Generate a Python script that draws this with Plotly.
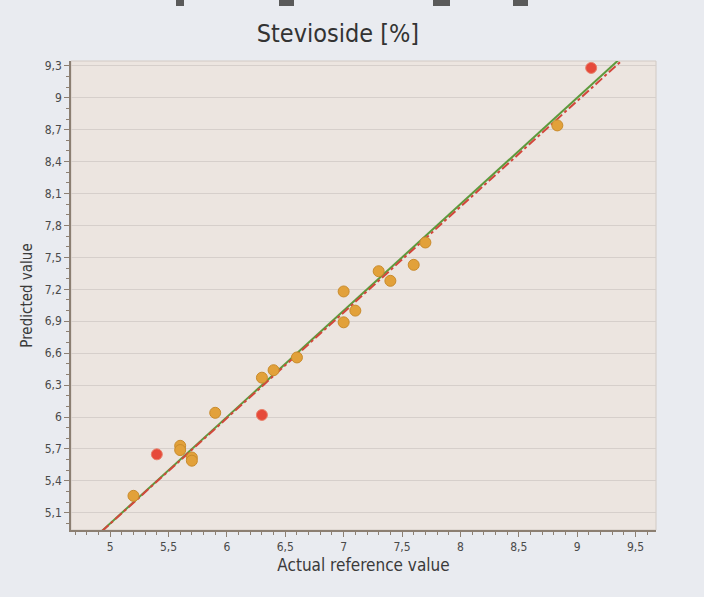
import numpy as np
import plotly.graph_objects as go

# Calibration samples: actual reference value vs. predicted value
actual_ok = [5.2, 5.6, 5.6, 5.7, 5.7, 5.9, 6.3, 6.4, 6.6, 7.0, 7.0, 7.1, 7.3, 7.4, 7.6, 7.7, 8.83]
pred_ok = [5.26, 5.73, 5.69, 5.62, 5.59, 6.04, 6.37, 6.44, 6.56, 7.18, 6.89, 7.0, 7.37, 7.28, 7.43, 7.64, 8.74]

# Samples flagged as outliers
actual_out = [5.4, 6.3, 9.12]
pred_out = [5.65, 6.02, 9.28]

# Calibration regression line (slope, offset)
fit_slope = 0.993
fit_offset = 0.032

y_tick_vals = [5.1, 5.4, 5.7, 6.0, 6.3, 6.6, 6.9, 7.2, 7.5, 7.8, 8.1, 8.4, 8.7, 9.0, 9.3]
y_tick_text = ["5,1", "5,4", "5,7", "6", "6,3", "6,6", "6,9", "7,2", "7,5", "7,8", "8,1", "8,4", "8,7", "9", "9,3"]
x_tick_vals = [5.0, 5.5, 6.0, 6.5, 7.0, 7.5, 8.0, 8.5, 9.0, 9.5]
x_tick_text = ["5", "5,5", "6", "6,5", "7", "7,5", "8", "8,5", "9", "9,5"]

line_x = np.array([4.7, 9.6])

fig = go.Figure()

# Ideal (target) line y = x
fig.add_trace(go.Scatter(x=line_x, y=line_x, mode="lines",
                         line=dict(color="#5d9a3c", width=2), hoverinfo="skip", showlegend=False))
# Regression line
fig.add_trace(go.Scatter(x=line_x, y=fit_slope * line_x + fit_offset, mode="lines",
                         line=dict(color="#d2473c", width=2, dash="dashdot"), hoverinfo="skip", showlegend=False))

fig.add_trace(go.Scatter(x=actual_ok, y=pred_ok, mode="markers",
                         marker=dict(size=11, color="#e2a13a", line=dict(color="#c98b2c", width=1)),
                         showlegend=False))
fig.add_trace(go.Scatter(x=actual_out, y=pred_out, mode="markers",
                         marker=dict(size=11, color="#e64a3a", line=dict(color="#e8806a", width=1)),
                         showlegend=False))

FONT = "DejaVu Sans Condensed, DejaVu Sans"

axis_common = dict(
    showline=True, linecolor="#8c7f72", linewidth=1.5,
    ticks="outside", ticklen=5, tickcolor="#8c7f72",
    tickfont=dict(family=FONT, size=12, color="#4a4a4a"),
    zeroline=False,
)

fig.update_xaxes(range=[4.665, 9.675], tickvals=x_tick_vals, ticktext=x_tick_text,
                 showgrid=False,
                 minor=dict(ticks="outside", dtick=0.1, tick0=5.0, ticklen=3, tickcolor="#8c7f72", showgrid=False),
                 title=dict(text="Actual reference value", standoff=6,
                            font=dict(family=FONT, size=17, color="#3a3a3a")),
                 **axis_common)
fig.update_yaxes(range=[4.939, 9.345], tickvals=y_tick_vals, ticktext=y_tick_text,
                 showgrid=True, gridcolor="#d6cfcb", gridwidth=1,
                 minor=dict(ticks="outside", dtick=0.1, tick0=5.1, ticklen=3, tickcolor="#8c7f72", showgrid=False),
                 title=dict(text="Predicted value", standoff=8,
                            font=dict(family=FONT, size=15, color="#3a3a3a")),
                 **axis_common)

shapes = [
    # light frame around the plotting area
    dict(type="rect", xref="paper", yref="paper", x0=0, y0=0, x1=1, y1=1,
         line=dict(color="#d2cac4", width=1), layer="below"),
]
# partial text fragments cut at the top edge
for x0, x1 in [(176, 184), (279, 294), (433, 450), (513, 528)]:
    shapes.append(dict(type="rect", xref="paper", yref="paper",
                       x0=(x0 - 71) / 585, x1=(x1 - 71) / 585,
                       y0=(530 - 6) / 469, y1=(530 - 0) / 469,
                       line=dict(width=0), fillcolor="#5a5a5a"))

fig.update_layout(
    width=704, height=597,
    margin=dict(l=71, r=48, t=61, b=67),
    paper_bgcolor="#e9ebf0",
    plot_bgcolor="#ece5e0",
    title=dict(text="Stevioside [%]", x=0.48, xanchor="center", y=0.945, yanchor="middle",
               font=dict(family=FONT, size=25, color="#333333")),
    shapes=shapes,
    font=dict(family=FONT),
)

fig.write_html("out.html")
